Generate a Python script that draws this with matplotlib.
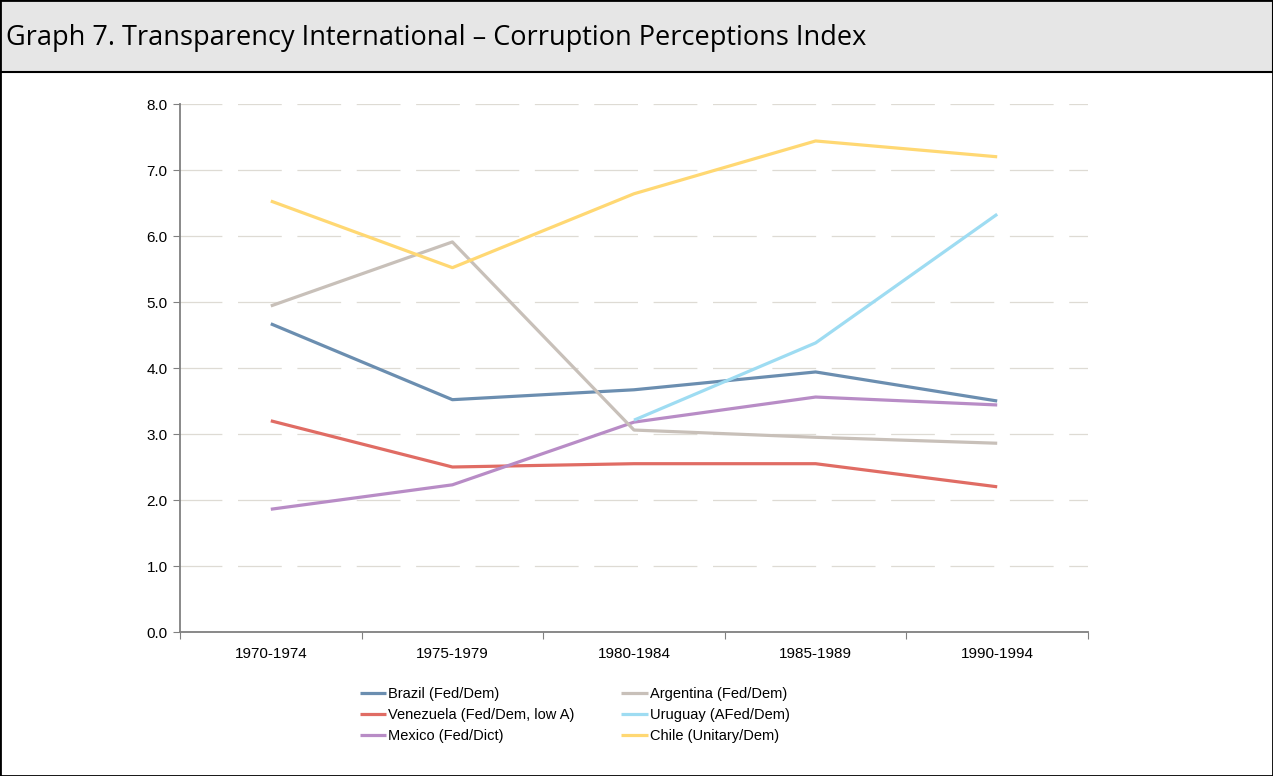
import numpy as np
import matplotlib.pyplot as plt
from matplotlib.patches import Rectangle

periodos = ['1970-1974', '1975-1979', '1980-1984', '1985-1989', '1990-1994']

brazil = [4.67, 3.52, 3.67, 3.94, 3.50]
argentina = [4.94, 5.91, 3.06, 2.95, 2.86]
venezuela = [3.20, 2.50, 2.55, 2.55, 2.20]
uruguay = [np.nan, np.nan, 3.21, 4.38, 6.33]
mexico = [1.86, 2.23, 3.18, 3.56, 3.44]
chile = [6.53, 5.52, 6.64, 7.44, 7.20]

# kolejnosc: kolumnami, tak jak matplotlib wypelnia legende
serie = [
    ('Brazil (Fed/Dem)', brazil, '#6b8eb0'),
    ('Venezuela (Fed/Dem, low A)', venezuela, '#e06c64'),
    ('Mexico (Fed/Dict)', mexico, '#b88cc6'),
    ('Argentina (Fed/Dem)', argentina, '#c8c0b9'),
    ('Uruguay (AFed/Dem)', uruguay, '#9edcf2'),
    ('Chile (Unitary/Dem)', chile, '#ffd873'),
]

W, H = 1273, 776
fig = plt.figure(figsize=(W / 100, H / 100), dpi=100)
fig.patch.set_facecolor('white')

# naglowek
fig.patches.append(Rectangle((0, 1 - 72 / H), 1, 72 / H, transform=fig.transFigure,
                             facecolor='#e6e6e6', edgecolor='black', linewidth=1.5))
fig.patches.append(Rectangle((0, 0), 1, 1, transform=fig.transFigure,
                             facecolor='none', edgecolor='black', linewidth=2))
fig.text(6 / W, 1 - 38 / H, 'Graph 7. Transparency International \u2013 Corruption Perceptions Index',
         fontsize=19.5, family='Open Sans', va='center', ha='left', color='black')

ax = fig.add_axes([180 / W, (H - 632) / H, (1088 - 180) / W, (632 - 104) / H])
x = np.arange(len(periodos))
for nazwa, wartosci, kolor in serie:
    ax.plot(x, wartosci, color=kolor, linewidth=2.3, label=nazwa, solid_capstyle='butt')

ax.set_xlim(-0.5, len(periodos) - 0.5)
ax.set_ylim(0, 8)
ax.set_yticks(np.arange(0, 8.1, 1.0))
ax.set_yticklabels(['%.1f' % v for v in np.arange(0, 8.1, 1.0)], fontsize=11, family='Liberation Sans')
ax.yaxis.grid(True, color='#dedbd4', linestyle=(1.5, (35, 12.5)), linewidth=0.9)
ax.set_axisbelow(True)

ax.set_xticks(np.arange(-0.5, len(periodos)), minor=False)
ax.set_xticklabels([])
ax.set_xticks(x, minor=True)
ax.set_xticklabels(periodos, minor=True, fontsize=11, family='Liberation Sans')
ax.tick_params(axis='x', which='minor', length=0, pad=11)
ax.tick_params(axis='x', which='major', length=5, color='#808080', direction='out')
ax.tick_params(axis='y', length=5, color='#808080', direction='out', pad=4)

for s in ['top', 'right']:
    ax.spines[s].set_visible(False)
for s in ['left', 'bottom']:
    ax.spines[s].set_color('#808080')
    ax.spines[s].set_linewidth(1.3)

leg = fig.legend(loc='upper left', bbox_to_anchor=(354 / W, 1 - 681 / H), ncol=2,
                 frameon=False, handlelength=1.8, handletextpad=0.15,
                 columnspacing=3.2, labelspacing=0.5, borderaxespad=0,
                 prop={'family': 'Liberation Sans', 'size': 10.5})

fig.savefig('out.png', dpi=100)
